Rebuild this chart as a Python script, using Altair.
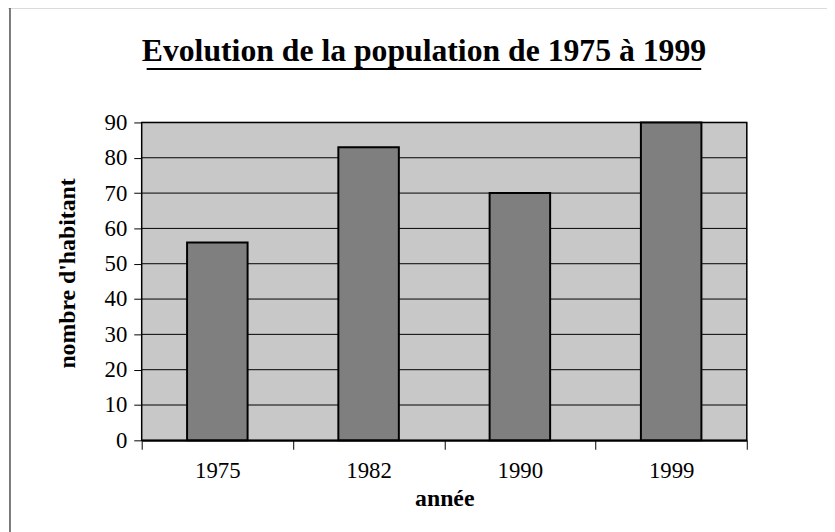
import altair as alt
import pandas as pd

annees = ["1975", "1982", "1990", "1999"]
habitants = [56, 83, 70, 90]
y_ticks = [0, 10, 20, 30, 40, 50, 60, 70, 80, 90]
titre = "Evolution de la population de 1975 à 1999"
titre_x = "année"
titre_y = "nombre d'habitant"

df = pd.DataFrame({"annee": annees, "habitants": habitants})
grid_df = pd.DataFrame({"habitants": y_ticks})
one = pd.DataFrame({"a": [0]})
FONT = "Liberation Serif"

W, H = 611, 321

y_axis = alt.Axis(values=y_ticks, grid=False, tickSize=8, tickColor="black",
                  domainColor="black", domainWidth=2, labelFontSize=23,
                  labelOverlap=False, labelBound=False,
                  labelPadding=7, labelColor="black", labelFont=FONT,
                  titleFont=FONT, titleFontSize=24, titleFontWeight="bold",
                  titleColor="black", titleX=-75, titleY=152,
                  titleBaseline="middle")
y_scale = alt.Scale(domain=[0, 90], nice=False)

plot_bg = alt.Chart(one).mark_rect(color="#c8c8c8").encode(
    x=alt.value(0), x2=alt.value(W), y=alt.value(0), y2=alt.value(H))

grid = alt.Chart(grid_df).mark_rule(color="black", strokeWidth=1).encode(
    y=alt.Y("habitants:Q", title=titre_y, scale=y_scale, axis=y_axis),
    x=alt.value(0), x2=alt.value(W))

plot_frame = alt.Chart(one).mark_rect(fillOpacity=0, stroke="black", strokeWidth=1.5).encode(
    x=alt.value(0), x2=alt.value(W), y=alt.value(0), y2=alt.value(H))

bars = alt.Chart(df).mark_bar(
    width=alt.RelativeBandSize(0.4), color="#7f7f7f", stroke="black", strokeWidth=2
).encode(
    x=alt.X("annee:N", sort=annees, title=titre_x,
            scale=alt.Scale(paddingInner=0, paddingOuter=0),
            axis=alt.Axis(labelAngle=0, tickBand="extent", tickSize=9, tickColor="black",
                          domainColor="black", domainWidth=2, labelFontSize=23,
                          labelPadding=11, labelColor="black", labelFont=FONT,
                          titleFont=FONT, titleFontSize=24, titleFontWeight="bold",
                          titleColor="black", titlePadding=4)),
    y=alt.Y("habitants:Q", title=titre_y, scale=y_scale, axis=y_axis),
)

title_txt = alt.Chart(one).mark_text(
    font=FONT, fontSize=32, fontWeight="bold", align="center", baseline="alphabetic",
    color="black"
).encode(x=alt.value(285), y=alt.value(-62), text=alt.value(titre))

underline = alt.Chart(one).mark_rule(color="black", strokeWidth=2).encode(
    x=alt.value(5), x2=alt.value(565), y=alt.value(-54))

border_top = alt.Chart(one).mark_rule(color="#707070", strokeWidth=1.5).encode(
    x=alt.value(-135), x2=alt.value(700), y=alt.value(-116))
border_left = alt.Chart(one).mark_rule(color="#505050", strokeWidth=1.5).encode(
    x=alt.value(-133), y=alt.value(-116), y2=alt.value(420))

chart = alt.layer(plot_bg, grid, plot_frame, bars, title_txt, underline,
                  border_top, border_left).properties(
    width=W, height=H,
    autosize=alt.AutoSizeParams(type="none"),
    padding={"left": 135, "top": 113, "right": 81, "bottom": 90},
    background="white",
).configure_view(
    stroke=None
).configure(font=FONT)

chart.save("out.html", embed_options={"renderer": "svg", "actions": False})
